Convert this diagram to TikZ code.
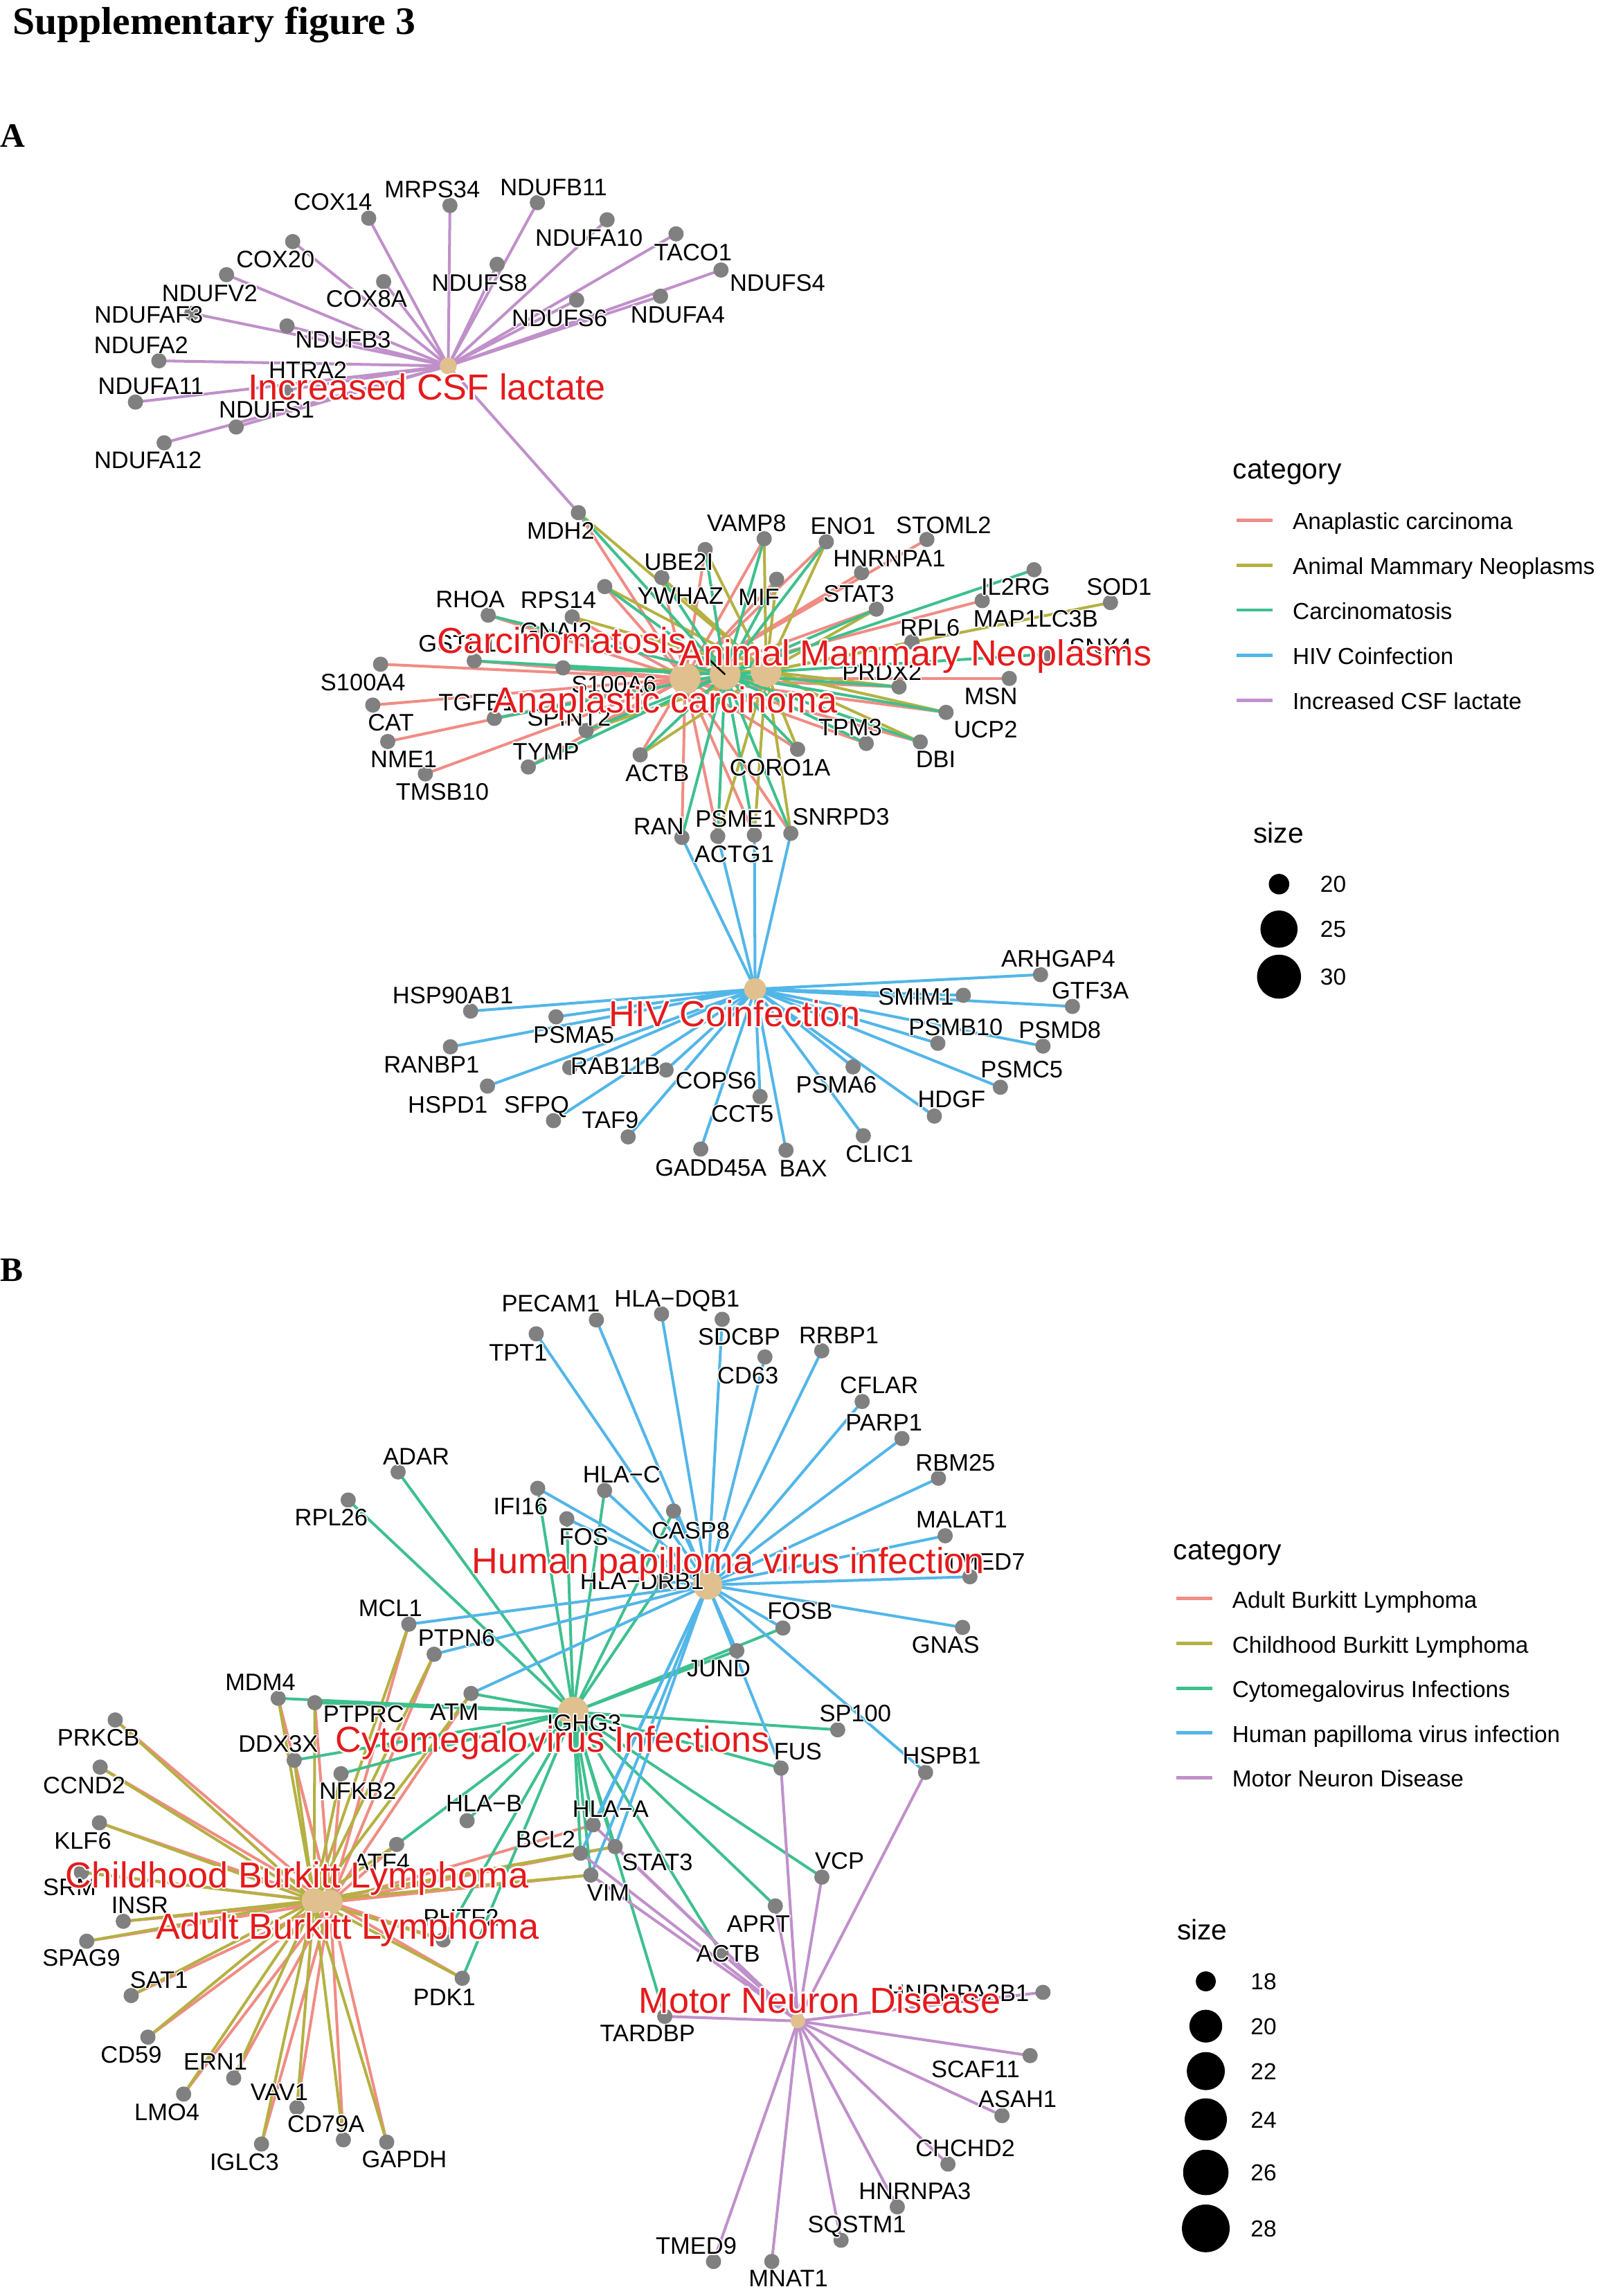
\documentclass[tikz,border=0pt]{standalone}
\usepackage{fontspec}
\setmainfont{Liberation Sans}
\newfontfamily\titleserif[FakeStretch=1.03]{Liberation Serif}
\newfontfamily\panelserif{Liberation Serif}
\definecolor{cR}{RGB}{240,140,132}
\definecolor{cO}{RGB}{180,177,66}
\definecolor{cG}{RGB}{62,192,142}
\definecolor{cB}{RGB}{82,182,232}
\definecolor{cP}{RGB}{192,144,202}
\definecolor{hubtan}{RGB}{223,192,142}
\definecolor{dotgray}{RGB}{128,128,128}
\definecolor{labred}{RGB}{228,26,28}
\newcommand\halo[2]{%
  \setbox0=\hbox{#2}%
  \dimen0=#1\relax
  \dimen2=0.7071\dimen0
  \rlap{\color{white}%
    \rlap{\kern\dimen0\copy0}%
    \rlap{\kern-\dimen0\copy0}%
    \rlap{\raise\dimen0\copy0}%
    \rlap{\lower\dimen0\copy0}%
    \rlap{\kern\dimen2\raise\dimen2\copy0}%
    \rlap{\kern-\dimen2\raise\dimen2\copy0}%
    \rlap{\kern\dimen2\lower\dimen2\copy0}%
    \rlap{\kern-\dimen2\lower\dimen2\copy0}}%
  \copy0}
\newcommand\glabfont{\fontsize{16.3}{19}\selectfont}
\newcommand\clabfont{\fontsize{24.7}{28}\selectfont}
\newcommand\legfont{\fontsize{15.8}{18}\selectfont}
\newcommand\legtitlefont{\fontsize{19.3}{22}\selectfont}
\tikzset{
  gdot/.style={circle,fill=dotgray,draw=none,inner sep=0pt,minimum size=10.4pt},
  hubnode/.style={circle,fill=hubtan,draw=none,inner sep=0pt},
  glab/.style={inner sep=0pt,anchor=base,font=\glabfont,text=black},
  clab/.style={inner sep=0pt,anchor=base,font=\clabfont,text=labred},
  legtxt/.style={inner sep=0pt,anchor=base west,font=\legfont,text=black},
  legttl/.style={inner sep=0pt,anchor=base west,font=\legtitlefont,text=black},
  legdot/.style={circle,fill=black,draw=none,inner sep=0pt},
  eR/.style={draw=cR,line width=1.9pt},
  eO/.style={draw=cO,line width=1.9pt},
  eG/.style={draw=cG,line width=1.9pt},
  eB/.style={draw=cB,line width=1.9pt},
  eP/.style={draw=cP,line width=1.9pt},
  keyline/.style={line width=2.3pt},
}
% name / dot x / dot y / label x / label y / text
\def\GAcsf{aCOX14/251.8/149.0/227.3/137.6/COX14,%
aMRPS34/307.3/140.3/295.2/129.3/MRPS34,%
aNDUFB11/367.0/138.4/378.1/127.7/NDUFB11,%
aNDUFA10/414.6/150.1/402.3/162.4/NDUFA10,%
aTACO1/461.7/159.7/473.2/172.3/TACO1,%
aNDUFS4/492.4/184.4/531.0/193.0/NDUFS4,%
aCOX20/199.9/165.0/188.1/177.0/COX20,%
aNDUFV2/154.7/187.6/143.2/199.9/NDUFV2,%
aCOX8A/262.0/192.3/250.3/203.8/COX8A,%
aNDUFS8/339.5/180.5/327.5/192.8/NDUFS8,%
aNDUFS6/393.8/204.9/382.1/217.2/NDUFS6,%
aNDUFA4/451.1/202.3/462.9/214.7/NDUFA4,%
aNDUFAF3/131.0/214.0/101.6/214.9/NDUFAF3,%
aNDUFB3/196.0/222.6/234.3/231.7/NDUFB3,%
aNDUFA2/108.5/246.4/96.4/235.4/NDUFA2,%
aHTRA2/195.1/266.4/210.2/252.5/HTRA2,%
aNDUFA11/92.5/274.6/103.1/263.3/NDUFA11,%
aNDUFS1/161.3/291.6/182.1/279.8/NDUFS1,%
aNDUFA12/112.1/302.4/101.0/314.2/NDUFA12}
\def\GAmid{aUBE2I/481.6/375.3/463.6/383.6/UBE2I,%
aYWHAZ/452.0/394.4/464.7/406.9/YWHAZ,%
aRPS14/413.0/400.6/381.3/409.4/RPS14,%
aGNAI2/390.8/421.3/379.7/430.9/GNAI2,%
aRHOA/333.4/420.1/321.1/409.3/RHOA,%
aGSTP1/323.9/451.3/312.5/439.2/GSTP1,%
aS100A6/384.5/456.1/419.3/467.4/S100A6,%
aS100A4/259.9/453.6/247.9/465.7/S100A4,%
aCAT/254.6/481.5/266.9/493.4/CAT,%
aNME1/264.8/506.4/275.7/518.3/NME1,%
aTMSB10/290.5/528.5/302.1/540.4/TMSB10,%
aTGFB1/337.6/490.6/325.8/479.5/TGFB1,%
aSPINT2/400.3/498.9/388.7/489.8/SPINT2,%
aTYMP/360.8/523.8/372.9/513.0/TYMP,%
aACTB/437.2/515.5/448.9/527.6/ACTB,%
aRAN/465.7/571.9/449.9/564.0/RAN,%
aPSME1/490.2/571.1/502.5/559.1/PSME1,%
aACTG1/515.2/570.3/501.4/583.0/ACTG1,%
aSNRPD3/540.1/569.1/574.3/557.8/SNRPD3,%
aVAMP8/521.9/367.9/509.9/357.1/VAMP8,%
aENO1/564.3/370.0/575.7/358.8/ENO1,%
aSTOML2/633.0/368.4/644.4/358.4/STOML2,%
aHNRNPA1/588.4/391.1/607.4/381.2/HNRNPA1,%
aMIF/530.4/395.6/518.3/407.7/MIF,%
aSTAT3/598.5/416.0/586.5/405.2/STAT3,%
aIL2RG/706.2/389.1/693.6/400.6/IL2RG,%
aMAPLC/670.8/410.2/707.3/422.6/MAP1LC3B,%
aSOD1/758.4/411.5/764.3/400.6/SOD1,%
aRPL6/622.8/438.4/635.1/428.4/RPL6,%
aSNX4/715.7/446.7/751.6/441.7/SNX4,%
aPRDX2/614.0/469.1/602.3/458.6/PRDX2,%
aMSN/689.3/463.3/676.7/475.2/MSN,%
aUCP2/646.1/486.5/673.1/498.1/UCP2,%
aDBI/628.5/506.7/639.1/518.3/DBI,%
aTPM3/591.6/507.7/580.6/496.8/TPM3,%
aCORO1A/544.7/511.7/532.7/523.8/CORO1A,%
aMDH2/395.0/350.1/383.0/362.1/MDH2}
\def\GAhiv{aHSP90AB1/321.4/690.5/309.3/679.7/HSP90AB1,%
aPSMA5/379.7/694.4/391.8/706.5/PSMA5,%
aRANBP1/307.6/714.9/294.7/727.0/RANBP1,%
aRAB11B/389.1/729.1/420.3/727.8/RAB11B,%
aCOPS6/454.9/730.7/489.0/737.8/COPS6,%
aHSPD1/332.9/741.7/305.8/754.3/HSPD1,%
aSFPQ/378.0/765.3/366.5/754.3/SFPQ,%
aTAF9/429.0/776.4/416.8/764.5/TAF9,%
aCCT5/519.1/748.8/507.0/760.6/CCT5,%
aGADD45A/478.6/784.7/485.5/797.3/GADD45A,%
aBAX/536.8/785.5/548.6/798.0/BAX,%
aPSMA6/582.6/728.6/571.2/740.6/PSMA6,%
aCLIC1/589.6/775.6/600.6/787.9/CLIC1,%
aHDGF/638.1/762.2/649.9/750.7/HDGF,%
aPSMC5/683.2/742.5/697.8/730.3/PSMC5,%
aPSMB10/640.5/712.5/652.7/701.2/PSMB10,%
aPSMD8/712.3/714.4/723.8/703.1/PSMD8,%
aSMIM1/657.9/679.7/625.6/680.7/SMIM1,%
aGTF3A/732.4/687.3/744.6/676.3/GTF3A,%
aARHGAP4/710.6/665.6/722.7/654.7/ARHGAP4}
\def\GB{bPECAM1/407.3/901.4/376.1/890.2/PECAM1,%
bHLADQB1/451.8/897.3/462.4/886.6/HLA−DQB1,%
bTPT1/366.2/910.9/353.9/923.5/TPT1,%
bSDCBP/493.2/901.0/504.8/912.8/SDCBP,%
bCD63/522.4/926.7/510.8/939.4/CD63,%
bRRBP1/561.2/922.5/572.9/911.7/RRBP1,%
bCFLAR/588.8/957.1/600.4/945.9/CFLAR,%
bPARP1/616.0/982.4/603.7/971.2/PARP1,%
bRBM25/640.9/1009.5/652.5/998.6/RBM25,%
bMALAT1/645.5/1048.8/656.8/1037.5/MALAT1,%
bTMED7/662.4/1076.8/672.4/1066.5/TMED7,%
bGNAS/657.4/1111.4/645.8/1123.0/GNAS,%
bFOSB/534.7/1111.8/546.3/1100.2/FOSB,%
bJUND/503.2/1127.3/490.9/1139.4/JUND,%
bCASP8/460.0/1031.9/471.7/1045.0/CASP8,%
bHLAC/412.9/1017.9/424.6/1006.7/HLA−C,%
bIFI16/367.2/1016.4/355.5/1028.7/IFI16,%
bFOS/387.1/1037.2/398.7/1049.3/FOS,%
bHLADRB1/452.0/1080.0/438.5/1079.6/HLA−DRB1,%
bADAR/271.9/1005.2/284.2/994.5/ADAR,%
bRPL26/237.8/1024.4/226.2/1036.2/RPL26,%
bMCL1/279.2/1109.2/266.6/1097.9/MCL1,%
bPTPN6/296.5/1129.7/311.8/1118.5/PTPN6,%
bMDM4/190.0/1159.8/177.8/1148.9/MDM4,%
bPTPRC/215.0/1162.8/248.4/1170.6/PTPRC,%
bATM/321.7/1156.5/310.3/1169.2/ATM,%
bDDX3X/200.9/1202.1/190.0/1190.9/DDX3X,%
bNFKB2/232.9/1211.3/244.3/1223.1/NFKB2,%
bHLAB/319.0/1243.4/330.6/1231.6/HLA−B,%
bATF4/270.9/1259.6/260.6/1271.4/ATF4,%
bBCL2/396.5/1265.6/372.6/1256.0/BCL2,%
bHLAA/405.1/1246.2/417.0/1235.2/HLA−A,%
bSTAT3/420.1/1261.1/449.0/1271.4/STAT3,%
bVIM/403.5/1280.5/415.4/1292.2/VIM,%
bPRKCB/78.7/1174.6/67.3/1186.4/PRKCB,%
bCCND2/68.4/1206.8/57.5/1218.9/CCND2,%
bKLF6/67.9/1244.8/56.5/1256.9/KLF6,%
bSRM/55.6/1278.6/47.5/1288.6/SRM,%
bINSR/84.2/1312.1/95.5/1300.9/INSR,%
bSPAG9/59.2/1325.7/55.6/1337.1/SPAG9,%
bSAT1/89.6/1362.8/108.6/1351.9/SAT1,%
bCD59/101.0/1391.2/89.6/1403.0/CD59,%
bERN1/159.6/1419.1/147.1/1407.7/ERN1,%
bLMO4/125.4/1430.1/114.0/1442.4/LMO4,%
bVAV1/202.8/1439.3/190.8/1428.5/VAV1,%
bIGLC3/178.6/1464.2/166.9/1476.3/IGLC3,%
bCD79A/234.5/1461.3/222.6/1450.3/CD79A,%
bGAPDH/264.1/1462.9/276.1/1474.7/GAPDH,%
bPDK1/315.7/1351.0/303.5/1363.6/PDK1,%
bPHT/302.7/1324.8/314.9/1309.4/PHTF2,%
bIGHG3/392.0/1170.0/398.9/1176.4/IGHG3,%
bSP100/572.1/1181.3/584.1/1170.1/SP100,%
bFUS/533.4/1207.5/544.9/1195.9/FUS,%
bHSPB1/632.1/1210.4/643.1/1199.0/HSPB1,%
bVCP/561.3/1281.9/573.4/1270.5/VCP,%
bAPRT/529.5/1301.6/518.0/1313.6/APRT,%
bACTB/492.4/1333.5/497.3/1334.1/ACTB,%
bTARDBP/454.0/1377.0/442.2/1388.5/TARDBP,%
bHNRNPA2B1/712.3/1360.6/654.5/1361.0/HNRNPA2B1,%
bSCAF11/703.5/1403.8/666.2/1412.9/SCAF11,%
bASAH1/684.3/1444.8/694.9/1433.3/ASAH1,%
bCHCHD2/647.4/1477.9/659.2/1466.9/CHCHD2,%
bHNRNPA3/612.8/1507.1/624.8/1496.0/HNRNPA3,%
bSQSTM1/574.4/1529.9/585.2/1518.9/SQSTM1,%
bTMED9/487.3/1544.4/475.5/1533.5/TMED9,%
bMNAT1/527.1/1544.4/538.4/1555.9/MNAT1}
\newcommand\gcoords[1]{\foreach \n/\x/\y/\lx/\ly/\tx in #1 {\coordinate (\n) at (\x,\y);}}
\newcommand\gdots[1]{\foreach \n/\x/\y/\lx/\ly/\tx in #1 {\node[gdot] (d\n) at (\n) {};}}
\newcommand\glabels[1]{\foreach \n/\x/\y/\lx/\ly/\tx in #1 {\node[glab] (l\n) at (\lx,\ly+5.8) {\halo{0.8pt}{\tx}};}}
\begin{document}
\begin{tikzpicture}[x=1pt,y=-1pt]
\useasboundingbox (0,0) rectangle (1091,1568);
\fill[white] (0,0) rectangle (1091,1568);
% ---------- hubs (coordinates) ----------
\coordinate (hubCSF) at (306.1,249.9);
\coordinate (hubAna) at (467.9,463.3);
\coordinate (hubCar) at (495.2,460.6);
\coordinate (hubAni) at (523.2,458.6);
\coordinate (hubHIV) at (515.7,675.5);
\coordinate (hubHPV) at (483.3,1082.4);
\coordinate (hubCMV) at (391.5,1169.2);
\coordinate (hubChi) at (214.5,1298.0);
\coordinate (hubAdu) at (225.5,1299.0);
\coordinate (hubMND) at (544.9,1380.2);
\gcoords{\GAcsf}
\gcoords{\GAmid}
\gcoords{\GAhiv}
\gcoords{\GB}
% ---------- edges panel A ----------
\foreach \g in {aCOX14,aMRPS34,aNDUFB11,aNDUFA10,aTACO1,aNDUFS4,aCOX20,aNDUFV2,aCOX8A,aNDUFS8,aNDUFS6,aNDUFA4,aNDUFAF3,aNDUFB3,aNDUFA2,aHTRA2,aNDUFA11,aNDUFS1,aNDUFA12,aMDH2} {\draw[eP] (hubCSF) -- (\g);}
\foreach \g in {aUBE2I,aYWHAZ,aRPS14,aGNAI2,aRHOA,aGSTP1,aS100A6,aS100A4,aCAT,aNME1,aTMSB10,aTGFB1,aSPINT2,aTYMP,aACTB,aRAN,aPSME1,aACTG1,aSNRPD3,aVAMP8,aENO1,aSTOML2,aHNRNPA1,aMIF,aSTAT3,aMAPLC,aPRDX2,aMSN,aUCP2,aDBI,aTPM3,aCORO1A,aMDH2} {\draw[eR] (hubAna) -- (\g);}
\foreach \g in {aUBE2I,aYWHAZ,aRPS14,aGNAI2,aS100A6,aSPINT2,aACTB,aPSME1,aACTG1,aSNRPD3,aVAMP8,aENO1,aMIF,aSTAT3,aSOD1,aRPL6,aPRDX2,aUCP2,aDBI,aCORO1A,aMDH2} {\draw[eO] (hubAni) -- (\g);}
\foreach \g in {aUBE2I,aYWHAZ,aRPS14,aRHOA,aGSTP1,aS100A6,aTGFB1,aSPINT2,aTYMP,aACTB,aRAN,aPSME1,aACTG1,aSNRPD3,aVAMP8,aENO1,aMIF,aSTAT3,aIL2RG,aSNX4,aPRDX2,aUCP2,aDBI,aTPM3,aCORO1A,aMDH2} {\draw[eG] (hubCar) -- (\g);}
\foreach \g in {aHSP90AB1,aPSMA5,aRANBP1,aRAB11B,aCOPS6,aHSPD1,aSFPQ,aTAF9,aCCT5,aGADD45A,aBAX,aPSMA6,aCLIC1,aHDGF,aPSMC5,aPSMB10,aPSMD8,aSMIM1,aGTF3A,aARHGAP4,aRAN,aPSME1,aACTG1,aSNRPD3} {\draw[eB] (hubHIV) -- (\g);}
% ---------- edges panel B ----------
\foreach \g in {bMCL1,bPTPN6,bMDM4,bPTPRC,bATM,bDDX3X,bNFKB2,bATF4,bBCL2,bHLAA,bSTAT3,bVIM,bPRKCB,bCCND2,bKLF6,bSRM,bINSR,bSPAG9,bSAT1,bCD59,bERN1,bLMO4,bVAV1,bIGLC3,bCD79A,bGAPDH,bPDK1,bPHT} {\draw[eR] (hubAdu) -- (\g);}
\foreach \g in {bMCL1,bPTPN6,bMDM4,bPTPRC,bATM,bDDX3X,bNFKB2,bATF4,bBCL2,bSTAT3,bVIM,bPRKCB,bCCND2,bKLF6,bSRM,bINSR,bSPAG9,bSAT1,bCD59,bERN1,bLMO4,bVAV1,bIGLC3,bCD79A,bGAPDH,bPDK1,bPHT} {\draw[eO] (hubChi) -- (\g);}
\foreach \g in {bFOSB,bJUND,bCASP8,bHLAC,bIFI16,bFOS,bHLADRB1,bADAR,bRPL26,bMDM4,bPTPRC,bATM,bDDX3X,bNFKB2,bHLAB,bATF4,bBCL2,bHLAA,bSTAT3,bVIM,bPDK1,bPHT,bSP100,bFUS,bVCP,bAPRT,bACTB,bTARDBP} {\draw[eG] (hubCMV) -- (\g);}
\foreach \g in {bPECAM1,bHLADQB1,bTPT1,bSDCBP,bCD63,bRRBP1,bCFLAR,bPARP1,bRBM25,bMALAT1,bTMED7,bGNAS,bFOSB,bJUND,bCASP8,bHLAC,bIFI16,bFOS,bHLADRB1,bMCL1,bPTPN6,bATM,bBCL2,bHLAA,bSTAT3,bVIM,bFUS,bHSPB1} {\draw[eB] (hubHPV) -- (\g);}
\foreach \g in {bHNRNPA2B1,bSCAF11,bASAH1,bCHCHD2,bHNRNPA3,bSQSTM1,bTMED9,bMNAT1,bTARDBP,bACTB,bAPRT,bVCP,bFUS,bHSPB1,bSTAT3,bHLAA,bBCL2,bVIM} {\draw[eP] (hubMND) -- (\g);}
% ---------- gene dots ----------
\gdots{\GAcsf}
\gdots{\GAmid}
\gdots{\GAhiv}
\gdots{\GB}
% ---------- hub circles ----------
\node[hubnode,minimum size=11.6pt] (nCSF) at (hubCSF) {};
\node[hubnode,minimum size=21pt] (nAna) at (hubAna) {};
\node[hubnode,minimum size=21pt] (nCar) at (hubCar) {};
\node[hubnode,minimum size=21pt] (nAni) at (hubAni) {};
\node[hubnode,minimum size=15pt] (nHIV) at (hubHIV) {};
\node[hubnode,minimum size=20pt] (nHPV) at (hubHPV) {};
\node[hubnode,minimum size=21pt] (nCMV) at (hubCMV) {};
\node[hubnode,minimum size=17pt] (nChi) at (hubChi) {};
\node[hubnode,minimum size=17pt] (nAdu) at (hubAdu) {};
\node[hubnode,minimum size=10pt] (nMND) at (hubMND) {};
% repel segment
\coordinate (segA) at (484.7,450.8);
\draw[black,line width=1.2pt] (segA) -- (hubCar);
% ---------- gene labels ----------
\glabels{\GAcsf}
\glabels{\GAmid}
\glabels{\GAhiv}
\glabels{\GB}
% ---------- category labels ----------
\node[clab] (cCSF) at (291.6,273.2) {\halo{1.2pt}{Increased CSF lactate}};
\node[clab] (cCar) at (383.7,446.2) {\halo{1.2pt}{Carcinomatosis}};
\node[clab] (cAni) at (625.3,454.6) {\halo{1.2pt}{Animal Mammary Neoplasms}};
\node[clab] (cAna) at (454.4,486.6) {\halo{1.2pt}{Anaplastic carcinoma}};
\node[clab] (cHIV) at (501.9,700.9) {\halo{1.2pt}{HIV Coinfection}};
\node[clab] (cHPV) at (497.4,1074.4) {\halo{1.2pt}{Human papilloma virus infection}};
\node[clab] (cCMV) at (377.3,1196.5) {\halo{1.2pt}{Cytomegalovirus Infections}};
\node[clab] (cChi) at (202.9,1289.0) {\halo{1.2pt}{Childhood Burkitt Lymphoma}};
\node[clab] (cAdu) at (237.5,1324.3) {\halo{1.2pt}{Adult Burkitt Lymphoma}};
\node[clab] (cMND) at (559.8,1374.8) {\halo{1.2pt}{Motor Neuron Disease}};
% ---------- titles ----------
\node[anchor=base west,inner sep=0pt,font={\titleserif\bfseries\fontsize{26.5}{30}\selectfont}] (title) at (8.4,23.3) {Supplementary figure 3};
\node[anchor=base west,inner sep=0pt,font={\panelserif\bfseries\fontsize{23.4}{26}\selectfont}] (panelA) at (0.2,100.6) {A};
\node[anchor=base west,inner sep=0pt,font={\panelserif\bfseries\fontsize{23.4}{26}\selectfont}] (panelB) at (0.2,874.8) {B};
% ---------- legend A ----------
\node[legttl] (catA) at (841.9,327.0) {category};
\foreach \i/\ky/\kc/\kt in {1/355.3/cR/Anaplastic carcinoma,2/385.9/cO/Animal Mammary Neoplasms,3/416.6/cG/Carcinomatosis,4/447.4/cB/HIV Coinfection,5/478.1/cP/Increased CSF lactate} {
  \coordinate (kA\i a) at (844.4,\ky);
  \coordinate (kA\i b) at (869.3,\ky);
  \draw[keyline,draw=\kc] (kA\i a) -- (kA\i b);
  \node[legtxt] (tA\i) at (882.7,\ky+6.4) {\kt};
}
\node[legttl] (sizeA) at (855.8,575.8) {size};
\foreach \i/\sy/\sd/\st in {1/603.8/14/20,2/634.5/25.4/25,3/667.0/30/30} {
  \node[legdot,minimum size=\sd pt] (sA\i) at (873.5,\sy) {};
  \node[legtxt] (nA\i) at (901.5,\sy+5.7) {\st};
}
% ---------- legend B ----------
\node[legttl] (catB) at (801.1,1065.1) {category};
\foreach \i/\ky/\kc/\kt in {1/1091.6/cR/Adult Burkitt Lymphoma,2/1122.3/cO/Childhood Burkitt Lymphoma,3/1153.0/cG/Cytomegalovirus Infections,4/1183.3/cB/Human papilloma virus infection,5/1214.0/cP/Motor Neuron Disease} {
  \coordinate (kB\i a) at (803.5,\ky);
  \coordinate (kB\i b) at (828.1,\ky);
  \draw[keyline,draw=\kc] (kB\i a) -- (kB\i b);
  \node[legtxt] (tB\i) at (841.4,\ky+6.4) {\kt};
}
\node[legttl] (sizeB) at (803.7,1324.8) {size};
\foreach \i/\sy/\sd/\st in {1/1353.1/13.6/18,2/1383.7/22.4/20,3/1414.4/26/22,4/1447.4/28.8/24,5/1483.6/31/26,6/1521.8/32.6/28} {
  \node[legdot,minimum size=\sd pt] (sB\i) at (823.5,\sy) {};
  \node[legtxt] (nB\i) at (854.0,\sy+5.7) {\st};
}
\end{tikzpicture}
\end{document}
